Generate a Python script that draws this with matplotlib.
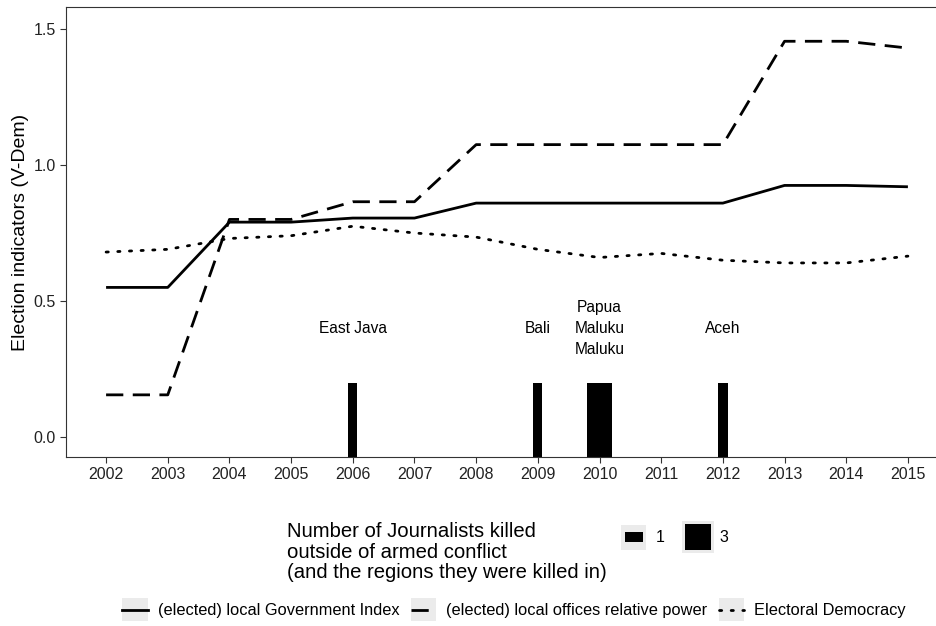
import matplotlib.pyplot as plt
from matplotlib.lines import Line2D
from matplotlib.patches import Rectangle
from matplotlib.legend_handler import HandlerLine2D, HandlerBase

plt.rcParams['font.family'] = ['Liberation Sans', 'DejaVu Sans']

# Data
years = list(range(2002, 2016))
local_gov = [0.55, 0.55, 0.79, 0.79, 0.805, 0.805, 0.86, 0.86, 0.86, 0.86, 0.86, 0.925, 0.925, 0.92]
local_power = [0.155, 0.155, 0.80, 0.80, 0.865, 0.865, 1.075, 1.075, 1.075, 1.075, 1.075, 1.455, 1.455, 1.43]
elect_dem = [0.68, 0.69, 0.73, 0.74, 0.775, 0.75, 0.735, 0.69, 0.66, 0.675, 0.65, 0.64, 0.64, 0.665]

kill_years = [2006, 2009, 2010, 2012]
kill_counts = [1, 1, 3, 1]
kill_regions = ['East Java', 'Bali', 'Papua\nMaluku\nMaluku', 'Aceh']

bar_top = 0.2
label_y = 0.4
ylim = (-0.0735, 1.581)
xlim = (2001.35, 2015.65)


def bar_width(n):
    return 0.02 + 0.13 * n


fig = plt.figure(figsize=(9.36, 6.26), dpi=100)
# panel runs slightly past the right edge of the image, as in the original
ax = fig.add_axes([66 / 936, 1 - 457 / 626, 882 / 936, 450 / 626])

lw = 2.0
ax.plot(years, local_gov, color='black', lw=lw, solid_capstyle='butt')
ax.plot(years, local_power, color='black', lw=lw, dashes=(6.2, 3.4))
ax.plot(years, elect_dem, color='black', lw=lw, dashes=(0.8, 3.4), dash_capstyle='round')

for yr, n, reg in zip(kill_years, kill_counts, kill_regions):
    ax.bar(yr, bar_top - ylim[0], bottom=ylim[0], width=bar_width(n), color='black')
    ax.text(yr, label_y, reg, ha='center', va='center', fontsize=11.2,
            linespacing=1.5, color='black')

ax.set_xlim(*xlim)
ax.set_ylim(*ylim)
ax.set_xticks(years)
ax.set_yticks([0.0, 0.5, 1.0, 1.5])
ax.set_yticklabels(['0.0', '0.5', '1.0', '1.5'])
ax.tick_params(length=4, width=0.8, color='#333333', labelsize=11.5, labelcolor='#222222')
for s in ax.spines.values():
    s.set_color('#333333')
    s.set_linewidth(0.8)
ax.set_ylabel('Election indicators (V-Dem)', fontsize=14, labelpad=3)


class BgLineHandler(HandlerLine2D):
    def create_artists(self, legend, orig_handle, xdescent, ydescent, width, height, fontsize, trans):
        bg = Rectangle((-xdescent, -ydescent - 4), width, height + 8, facecolor='#ebebeb',
                       edgecolor='none', transform=trans)
        arts = super().create_artists(legend, orig_handle, xdescent, ydescent, width, height,
                                      fontsize, trans)
        return [bg] + arts


class SizeHandler(HandlerBase):
    # sizes given in pixels, legend boxes work in points
    def __init__(self, bw, bh, box):
        super().__init__()
        k = 72 / 100
        self.bw, self.bh, self.box = bw * k, bh * k, box * k

    def create_artists(self, legend, orig_handle, xdescent, ydescent, width, height, fontsize, trans):
        cx = -xdescent + width / 2
        cy = -ydescent + height / 2
        bg = Rectangle((cx - self.box / 2, cy - self.box / 2), self.box, self.box,
                       facecolor='#ebebeb', edgecolor='none', transform=trans)
        fg = Rectangle((cx - self.bw / 2, cy - self.bh / 2), self.bw, self.bh,
                       facecolor='black', edgecolor='none', transform=trans)
        return [bg, fg]


# Line legend
h1 = Line2D([], [], color='black', lw=lw)
h2 = Line2D([], [], color='black', lw=lw, dashes=(6.2, 3.4))
h3 = Line2D([], [], color='black', lw=lw, dashes=(0.8, 3.4), dash_capstyle='round')
leg1 = fig.legend([h1, h2, h3],
                  ['(elected) local Government Index', '(elected) local offices relative power',
                   'Electoral Democracy'],
                  loc='center', bbox_to_anchor=(514 / 936, 1 - 611 / 626), ncol=3, frameon=False,
                  fontsize=11.8, handlelength=1.55, handletextpad=0.6, columnspacing=0.7,
                  handler_map={Line2D: BgLineHandler()})

# Size legend
fig.text(287 / 936, 1 - 552 / 626,
         'Number of Journalists killed\noutside of armed conflict\n(and the regions they were killed in)',
         ha='left', va='center', fontsize=14.6, linespacing=1.1)
px = 61.67  # pixels per year
s1 = Rectangle((0, 0), 1, 1)
s3 = Rectangle((0, 0), 1, 1)
leg2 = fig.legend([s1, s3], [str(kill_counts[0]), str(kill_counts[2])],
                  loc='center left', bbox_to_anchor=(606 / 936, 1 - 537 / 626), ncol=2,
                  frameon=False, fontsize=11.5, handlelength=1.7, handleheight=1.7,
                  handletextpad=0.5, columnspacing=1.25,
                  handler_map={s1: SizeHandler(18, bar_width(1) * px, 25),
                               s3: SizeHandler(bar_width(3) * px, bar_width(3) * px, 32)})

fig.savefig('out.png', dpi=100)
